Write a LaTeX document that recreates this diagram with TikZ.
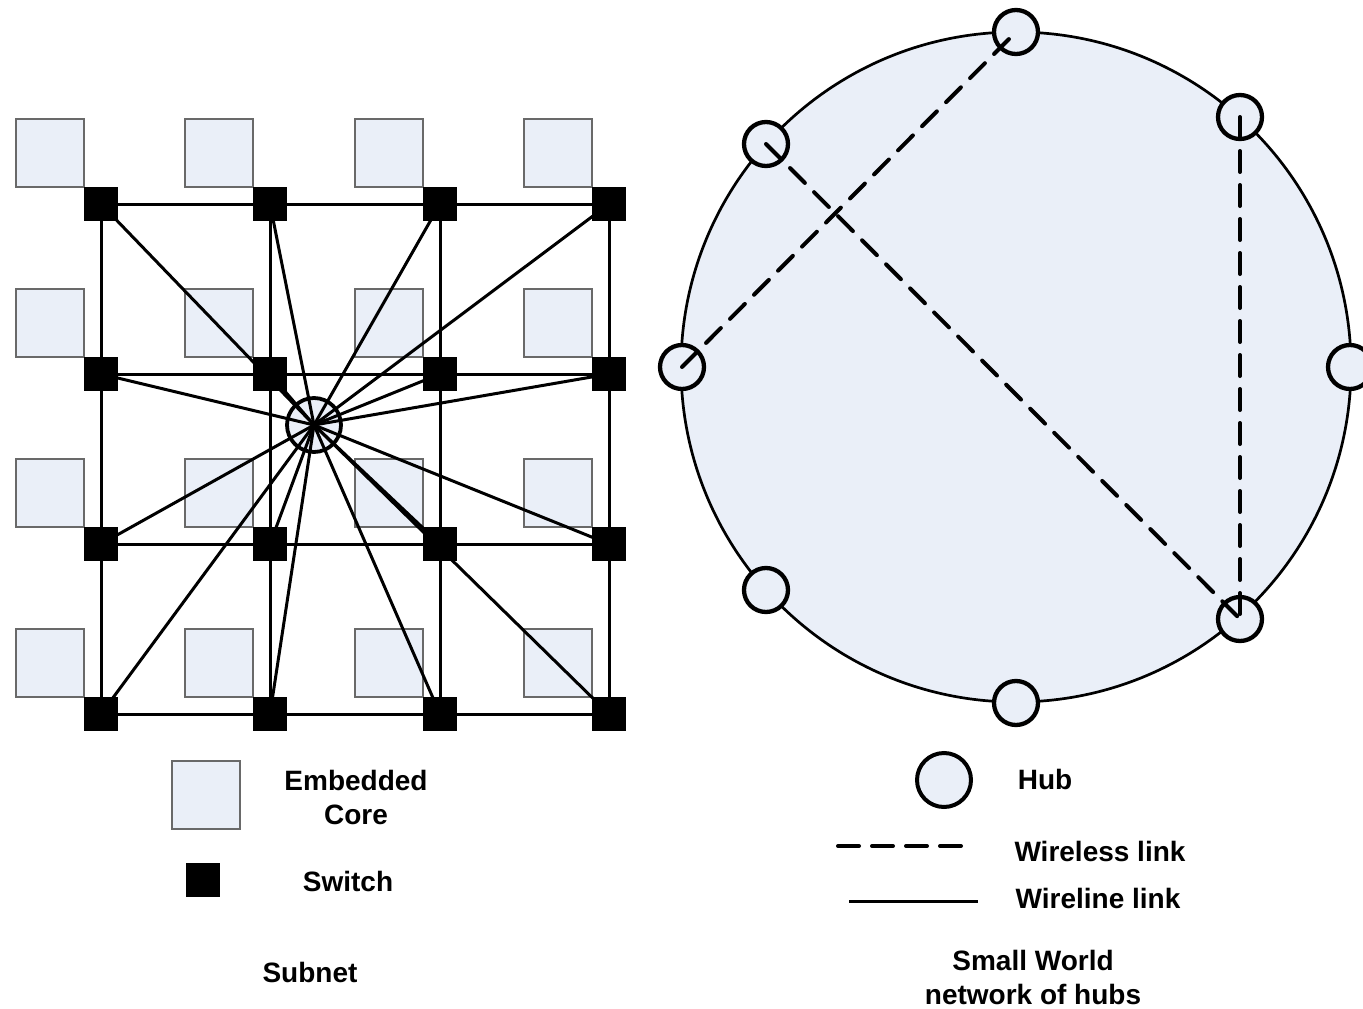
\documentclass[tikz,border=0pt]{standalone}
\usepackage{fontspec}
\setmainfont{Liberation Sans}
\definecolor{corefill}{RGB}{234,239,248}
\definecolor{coreline}{RGB}{105,105,105}
\begin{document}
\begin{tikzpicture}[x=1pt,y=-1pt,
  core/.style={rectangle,draw=coreline,line width=1.5pt,fill=corefill,minimum size=68pt,inner sep=0pt},
  switchbox/.style={rectangle,fill=black,minimum size=34pt,inner sep=0pt},
  hubL/.style={circle,draw=black,line width=3.8pt,fill=corefill,minimum size=54pt,inner sep=0pt},
  ring/.style={circle,draw=black,line width=2.7pt,fill=corefill,minimum size=670pt,inner sep=0pt},
  hub/.style={circle,draw=black,line width=4.3pt,fill=corefill,minimum size=44pt,inner sep=0pt},
  wire/.style={draw=black,line width=3pt},
  wireless/.style={draw=black,line width=4pt,line cap=round,dash pattern=on 21pt off 13pt},
  lbl/.style={font=\fontsize{28}{34}\selectfont\bfseries,inner sep=0pt,anchor=north,align=center}
]
\useasboundingbox (0,0) rectangle (1363,1009);
\fill[white] (0,0) rectangle (1363,1009);

% ---- Subnet ----
\foreach \c/\x in {1/101,2/270,3/440,4/609}{
  \foreach \r/\y in {1/204,2/374,3/544,4/714}{
    \node[core] (c-\r-\c) at (\x-51,\y-51) {};
  }
}
\foreach \c/\x in {1/101,2/270,3/440,4/609}{
  \foreach \r/\y in {1/204,2/374,3/544,4/714}{
    \node[switchbox] (s-\r-\c) at (\x,\y) {};
  }
}
\node[hubL] (hl) at (314,425) {};

\foreach \r in {1,2,3,4}{
  \draw[wire] (s-\r-1.center) -- (s-\r-4.center);
  \draw[wire] (s-1-\r.center) -- (s-4-\r.center);
}
\foreach \r in {1,2,3,4}{
  \foreach \c in {1,2,3,4}{
    \draw[wire] (hl.center) -- (s-\r-\c.center);
  }
}

% legend left
\node[core] (lc) at (206,795) {};
\node[switchbox] (ls) at (202.5,880) {};
\node[lbl] (tcore) at (356,770) {Embedded\\Core};
\node[lbl] (tsw) at (348,871) {Switch};
\node[lbl] (tsub) at (310,962) {Subnet};

% ---- Small world ----
\node[ring] (ring) at (1016,367) {};
\node[hub] (h1) at (1016,32) {};
\node[hub] (h2) at (1240,117) {};
\node[hub] (h3) at (1350,367) {};
\node[hub] (h4) at (1240,619) {};
\node[hub] (h5) at (1016,703) {};
\node[hub] (h6) at (766,590) {};
\node[hub] (h7) at (682,367) {};
\node[hub] (h8) at (766,144) {};

\draw[wireless] (h7.center) -- (h1.center);
\draw[wireless] (h8.center) -- (h4.center);
\draw[wireless] (h2.center) -- (h4.center);

% legend right
\node[hub,minimum size=54pt,line width=4pt] (lh) at (944,780) {};
\coordinate (ld1) at (838,846);
\coordinate (ld2) at (963,846);
\draw[wireless] (ld1) -- (ld2);
\coordinate (lw1) at (849,901);
\coordinate (lw2) at (978,901);
\draw[wire] (lw1) -- (lw2);
\node[lbl] (thub) at (1045,769) {Hub};
\node[lbl] (twl) at (1100,841) {Wireless link};
\node[lbl] (twr) at (1098,888) {Wireline link};
\node[lbl] (tsw2) at (1033,950) {Small World\\network of hubs};
\end{tikzpicture}
\end{document}
